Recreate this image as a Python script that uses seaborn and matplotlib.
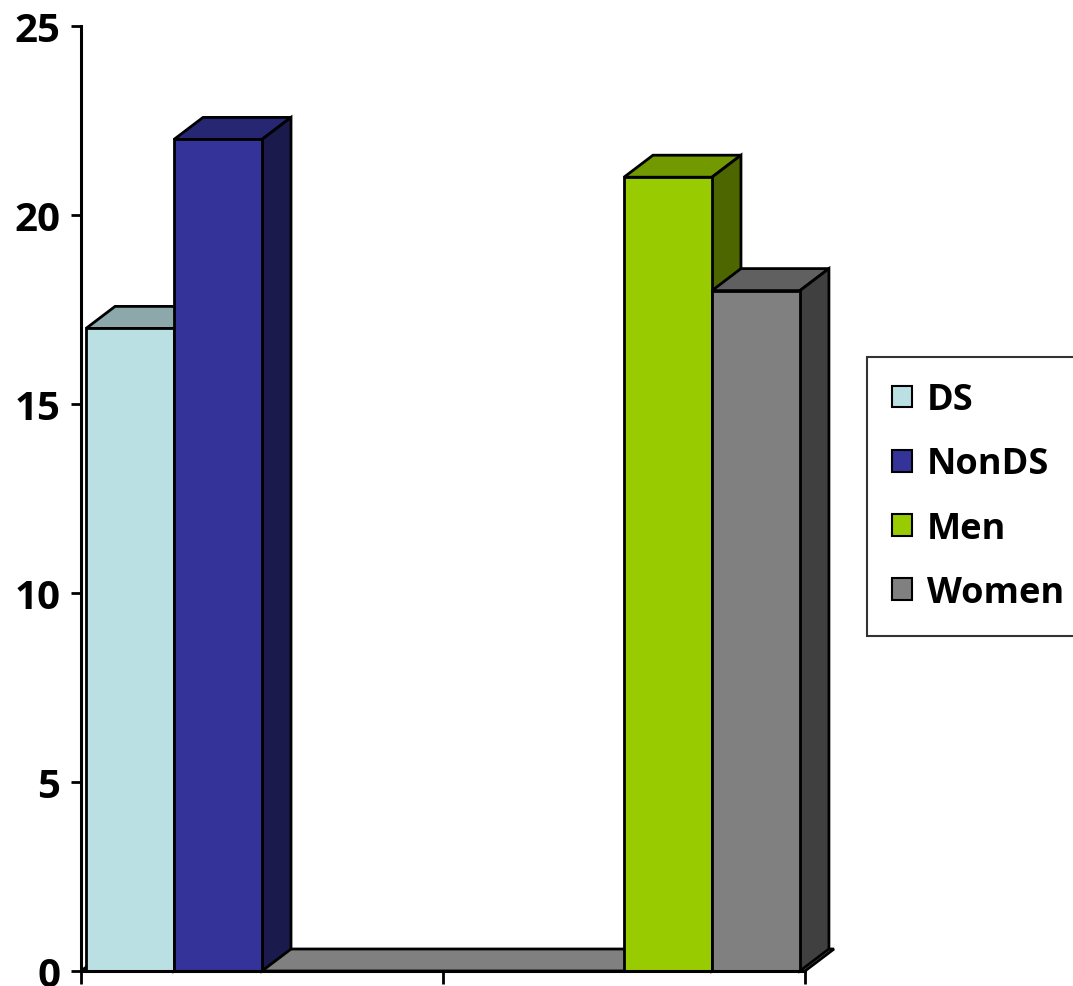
import matplotlib
matplotlib.use("Agg")
import matplotlib.pyplot as plt
from matplotlib.patches import Polygon
import numpy as np
import pandas as pd
import seaborn as sns

# Data
groups = ["Down syndrome", "Sex"]
series = ["DS", "NonDS", "Men", "Women"]
values_group1 = [17, 22, 0, 0]
values_group2 = [0, 0, 21, 18]
front_colors = ["#BBE0E3", "#333399", "#99CC00", "#808080"]
y_ticks = [0, 5, 10, 15, 20, 25]

df = pd.DataFrame({
    "group": [groups[0]] * 4 + [groups[1]] * 4,
    "series": series * 2,
    "value": values_group1 + values_group2,
})

sns.set_style("white")
plt.rcParams["font.family"] = ["Open Sans", "DejaVu Sans"]
plt.rcParams["text.color"] = "black"

W, H = 1073, 987
fig = plt.figure(figsize=(W / 100, H / 100), dpi=100)
ax = fig.add_axes([81 / W, 15 / H, 724 / W, 945 / H])

EDGE_LW = 2.0

sns.barplot(data=df, x="group", y="value", hue="series", hue_order=series,
            palette=front_colors, width=0.972, edgecolor="black",
            linewidth=EDGE_LW, saturation=1, ax=ax, legend=True)

ax.set_xlim(-0.5, 1.5)
ax.set_ylim(0, 25)

# depth of the pseudo-3D extrusion, in pixels converted to data units
depth_px_x, depth_px_y = 29, 22
dx = depth_px_x * (ax.get_xlim()[1] - ax.get_xlim()[0]) / ax.bbox.width
dy = depth_px_y * (ax.get_ylim()[1] - ax.get_ylim()[0]) / ax.bbox.height


def shade(hex_color, f):
    rgb = np.array(matplotlib.colors.to_rgb(hex_color))
    return tuple(rgb * f)


# floor
x0, x1 = ax.get_xlim()
floor = Polygon([(x0, 0), (x1, 0), (x1 + dx, dy), (x0 + dx, dy)],
                closed=True, facecolor="#808080", edgecolor="black",
                linewidth=EDGE_LW, zorder=1, clip_on=False)
ax.add_patch(floor)

# extrude each bar with a top and a side face
bars = []
for container, color in zip(ax.containers, front_colors):
    for patch in container.patches:
        bars.append((patch, color))
bars.sort(key=lambda b: b[0].get_x())

for i, (patch, color) in enumerate(bars):
    base_z = 2 + i * 0.1
    patch.set_zorder(base_z + 0.05)
    patch.set_clip_on(False)
    h = patch.get_height()
    if h <= 0:
        patch.set_visible(False)
        continue
    xl = patch.get_x()
    xr = xl + patch.get_width()
    top = Polygon([(xl, h), (xr, h), (xr + dx, h + dy), (xl + dx, h + dy)],
                  closed=True, facecolor=shade(color, 0.75), edgecolor="black",
                  linewidth=EDGE_LW, zorder=base_z, clip_on=False)
    side = Polygon([(xr, 0), (xr + dx, dy), (xr + dx, h + dy), (xr, h)],
                   closed=True, facecolor=shade(color, 0.5), edgecolor="black",
                   linewidth=EDGE_LW, zorder=base_z, clip_on=False)
    ax.add_patch(top)
    ax.add_patch(side)

# axes styling
for s in ["top", "right"]:
    ax.spines[s].set_visible(False)
for s in ["left", "bottom"]:
    ax.spines[s].set_color("black")
    ax.spines[s].set_linewidth(2.2)
    ax.spines[s].set_zorder(10)

ax.set_yticks(y_ticks)
ax.set_yticklabels([str(t) for t in y_ticks], fontsize=29, fontweight="bold",
                   color="black")
ax.set_xticks([-0.5, 0.5, 1.5])
ax.set_xticklabels(["", "", ""])
ax.tick_params(axis="y", direction="out", length=7, width=2, pad=8,
               left=True, colors="black")
ax.tick_params(axis="x", direction="out", length=9, width=2, bottom=True,
               colors="black")
ax.set_xlabel("")
ax.set_ylabel("")

leg = ax.legend(loc="upper left", bbox_to_anchor=(867 / W, 1 - 358 / H),
                bbox_transform=fig.transFigure, frameon=True, fancybox=False,
                shadow=False, borderaxespad=0, prop={"size": 26, "weight": "bold"},
                handlelength=0.55, handleheight=0.55, handletextpad=0.4,
                labelspacing=0.78, borderpad=0.7, labelcolor="black")
leg.get_frame().set_edgecolor("black")
leg.get_frame().set_linewidth(1.5)
for hnd in leg.legend_handles:
    hnd.set_edgecolor("black")
    hnd.set_linewidth(1.5)

fig.savefig("out.png", dpi=100)
